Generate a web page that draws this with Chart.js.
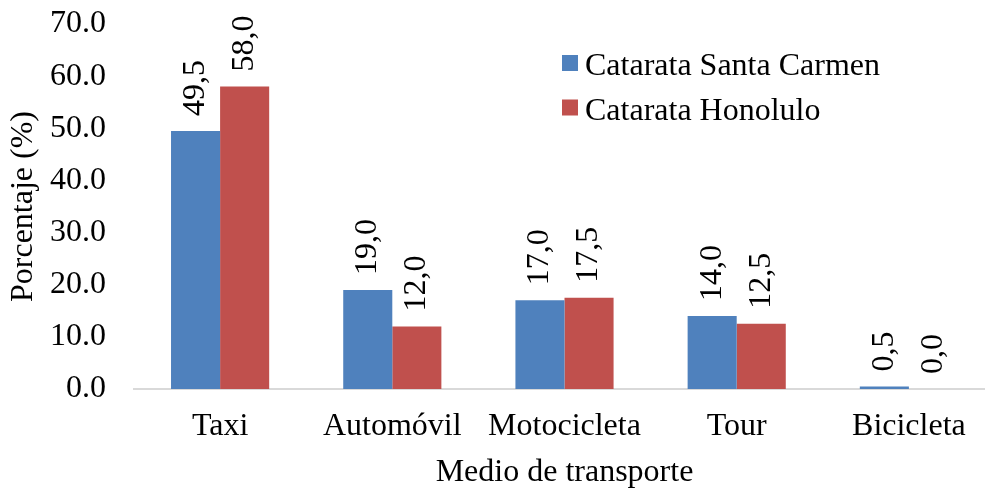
<!DOCTYPE html>
<html>
<head>
<meta charset="utf-8">
<script src="https://cdn.jsdelivr.net/npm/chart.js@4/dist/chart.umd.min.js"></script>
<style>
  html, body { margin: 0; padding: 0; background: #fff; overflow: hidden; }
  canvas { display: block; }
</style>
</head>
<body>
<canvas id="transporteChart" width="1000" height="489"></canvas>
<script>
// Datos
var categorias = ['Taxi', 'Automóvil', 'Motocicleta', 'Tour', 'Bicicleta'];
var santaCarmen = [49.5, 19.0, 17.0, 14.0, 0.5];
var honolulu = [58.0, 12.0, 17.5, 12.5, 0.0];
var nombresSeries = ['Catarata Santa Carmen', 'Catarata Honolulo'];
var ticksY = [0, 10, 20, 30, 40, 50, 60, 70];

var fuente = '"Liberation Serif", "Times New Roman", serif';
var azul = '#4F81BD';
var rojo = '#C0504D';

// Etiquetas de valor giradas sobre cada barra
var etiquetasPlugin = {
    id: 'etiquetas',
    afterDatasetsDraw: function(chart) {
        var ctx = chart.ctx;
        ctx.save();
        ctx.font = '32px ' + fuente;
        ctx.fillStyle = '#000';
        ctx.textAlign = 'left';
        ctx.textBaseline = 'middle';
        chart.data.datasets.forEach(function(ds, i) {
            chart.getDatasetMeta(i).data.forEach(function(bar, j) {
                var txt = ds.data[j].toFixed(1).replace('.', ',');
                ctx.save();
                ctx.translate(bar.x, bar.y - 15);
                ctx.rotate(-Math.PI / 2);
                ctx.fillText(txt, 0, 0);
                ctx.restore();
            });
        });
        ctx.restore();
    }
};

// Leyenda dentro del area del grafico
var leyendaPlugin = {
    id: 'leyenda',
    afterDraw: function(chart) {
        var ctx = chart.ctx;
        ctx.save();
        ctx.font = '32px ' + fuente;
        ctx.textAlign = 'left';
        ctx.textBaseline = 'alphabetic';
        chart.data.datasets.forEach(function(ds, i) {
            var y = 75 + i * 44.5;
            ctx.fillStyle = ds.backgroundColor;
            ctx.fillRect(562, y - 20, 16, 16);
            ctx.fillStyle = '#000';
            ctx.fillText(ds.label, 585, y);
        });
        ctx.restore();
    }
};

var ctx = document.getElementById('transporteChart').getContext('2d');

var myChart = new Chart(ctx, {
    type: 'bar',
    data: {
        labels: categorias,
        datasets: [{
            label: nombresSeries[0],
            data: santaCarmen,
            backgroundColor: azul,
            categoryPercentage: 0.57,
            barPercentage: 1.0
        }, {
            label: nombresSeries[1],
            data: honolulu,
            backgroundColor: rojo,
            categoryPercentage: 0.57,
            barPercentage: 1.0
        }]
    },
    options: {
        responsive: false,
        animation: false,
        layout: { padding: { top: 24, right: 5, left: 0, bottom: 0 } },
        plugins: {
            legend: { display: false },
            tooltip: { enabled: false }
        },
        scales: {
            x: {
                grid: { display: false, drawTicks: false },
                border: { display: true, color: '#D9D9D9', width: 2 },
                ticks: { color: '#000', font: { family: fuente, size: 32 }, padding: 18, maxRotation: 0 },
                title: {
                    display: true,
                    text: 'Medio de transporte',
                    color: '#000',
                    font: { family: fuente, size: 32, lineHeight: 1.0 },
                    padding: { top: 0, bottom: 0 }
                },
                afterFit: function(scale) {
                    scale.height = 100;
                    scale.paddingLeft = 0;
                    scale.paddingRight = 0;
                }
            },
            y: {
                min: 0,
                max: 70,
                grid: { display: false, drawTicks: false },
                border: { display: false },
                afterBuildTicks: function(scale) {
                    scale.ticks = ticksY.map(function(v) { return { value: v }; });
                },
                ticks: {
                    color: '#000',
                    font: { family: fuente, size: 32 },
                    padding: 28,
                    callback: function(v) { return v.toFixed(1); }
                },
                title: {
                    display: true,
                    text: 'Porcentaje (%)',
                    color: '#000',
                    font: { family: fuente, size: 32, lineHeight: 1.0 },
                    padding: { top: 8, bottom: 0 }
                },
                afterFit: function(scale) {
                    scale.width = 134;
                    scale.paddingTop = 0;
                    scale.paddingBottom = 0;
                }
            }
        }
    },
    plugins: [etiquetasPlugin, leyendaPlugin]
});
</script>
</body>
</html>
